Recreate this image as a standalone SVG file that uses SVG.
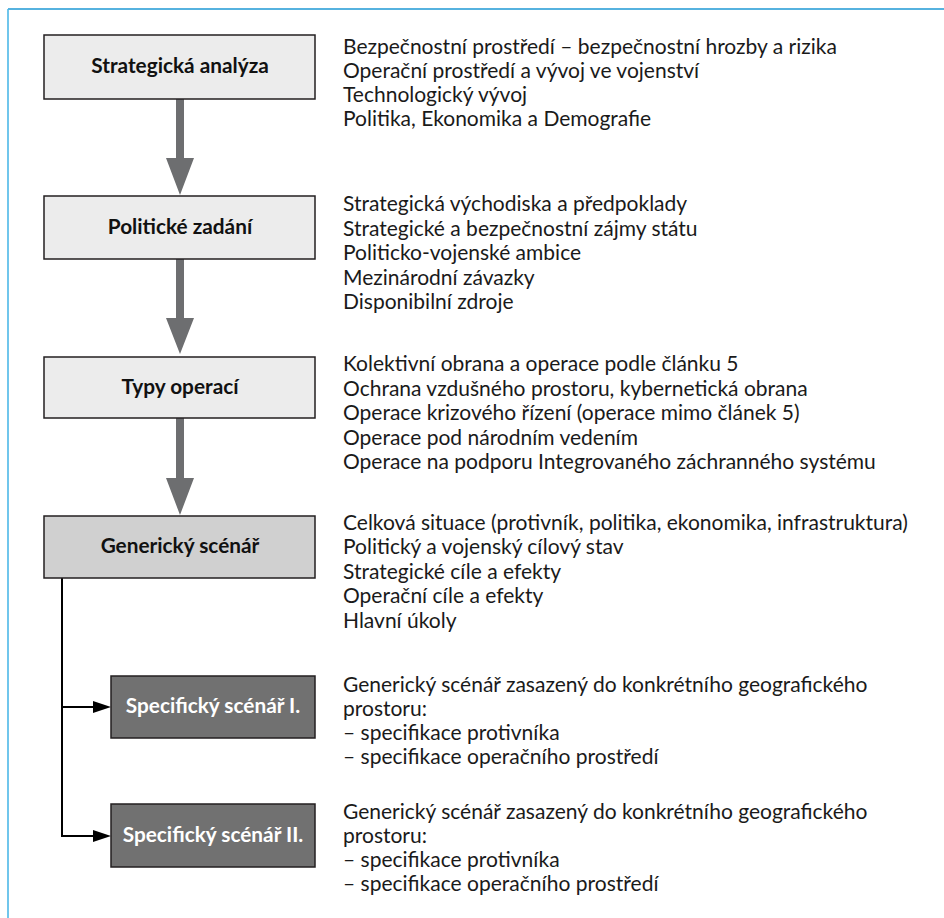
<svg xmlns="http://www.w3.org/2000/svg" width="944" height="918" viewBox="0 0 944 918">
<style>
.box{stroke:#231f20;stroke-width:1.5}
.l1{fill:#ececec}
.l2{fill:#d0d0d0}
.dk{fill:#717171}
.lbl{font-family:Lato,"Liberation Sans",sans-serif;font-weight:bold;font-size:20.8px;fill:#111;text-anchor:middle}
.wl{fill:#fff}
.txt{font-family:Lato,"Liberation Sans",sans-serif;font-size:21px;fill:#1a1a1a}
.ga{fill:#6d6e70}
</style>
<rect width="944" height="918" fill="#fff"/>
<g id="frame" fill="none">
<line x1="8" y1="9" x2="944" y2="9" stroke="#1e98d5" stroke-width="1.6"/>
<line x1="8" y1="9" x2="8" y2="918" stroke="#4db8e8" stroke-width="1.6"/>
</g>
<g id="connectors">
<path class="ga" d="M176,99 H184 V158 H194 L180,195 L166,158 H176 Z"/>
<path class="ga" d="M176,259 H184 V318 H194 L180,354 L166,318 H176 Z"/>
<path class="ga" d="M176,418 H184 V478 H194 L180,515 L166,478 H176 Z"/>
<path d="M62,578 V836" fill="none" stroke="#000" stroke-width="2"/>
<path d="M61,707 H93" fill="none" stroke="#000" stroke-width="2"/>
<path d="M93,701 L111,707 L93,713 Z" fill="#000"/>
<path d="M61,836 H93" fill="none" stroke="#000" stroke-width="2"/>
<path d="M93,830 L111,836 L93,842 Z" fill="#000"/>
</g>
<g id="n1">
<rect class="box l1" x="44" y="35" width="271" height="64"/>
<text class="lbl" x="180" y="73">Strategická analýza</text>
</g>
<g id="n2">
<rect class="box l1" x="44" y="196" width="271" height="63"/>
<text class="lbl" x="180" y="233.5">Politické zadání</text>
</g>
<g id="n3">
<rect class="box l1" x="44" y="357" width="271" height="61"/>
<text class="lbl" x="180" y="393.5">Typy operací</text>
</g>
<g id="n4">
<rect class="box l2" x="44" y="516" width="271" height="62"/>
<text class="lbl" x="180" y="553">Generický scénář</text>
</g>
<g id="n5">
<rect class="box dk" x="111" y="676" width="204" height="62"/>
<text class="lbl wl" x="213" y="713">Specifický scénář I.</text>
</g>
<g id="n6">
<rect class="box dk" x="111" y="804" width="204" height="63"/>
<text class="lbl wl" x="213" y="841.5">Specifický scénář II.</text>
</g>
<g id="t1" class="txt">
<text x="343" y="53.5">Bezpečnostní prostředí – bezpečnostní hrozby a rizika</text>
<text x="343" y="77.5">Operační prostředí a vývoj ve vojenství</text>
<text x="343" y="101.5">Technologický vývoj</text>
<text x="343" y="125.5">Politika, Ekonomika a Demografie</text>
</g>
<g id="t2" class="txt">
<text x="343" y="211">Strategická východiska a předpoklady</text>
<text x="343" y="235.5">Strategické a bezpečnostní zájmy státu</text>
<text x="343" y="260">Politicko-vojenské ambice</text>
<text x="343" y="284.5">Mezinárodní závazky</text>
<text x="343" y="309">Disponibilní zdroje</text>
</g>
<g id="t3" class="txt">
<text x="343" y="371">Kolektivní obrana a operace podle článku 5</text>
<text x="343" y="395.5">Ochrana vzdušného prostoru, kybernetická obrana</text>
<text x="343" y="420">Operace krizového řízení (operace mimo článek 5)</text>
<text x="343" y="444.5">Operace pod národním vedením</text>
<text x="343" y="469">Operace na podporu Integrovaného záchranného systému</text>
</g>
<g id="t4" class="txt">
<text x="343" y="529.5">Celková situace (protivník, politika, ekonomika, infrastruktura)</text>
<text x="343" y="554">Politický a vojenský cílový stav</text>
<text x="343" y="578.5">Strategické cíle a efekty</text>
<text x="343" y="603">Operační cíle a efekty</text>
<text x="343" y="627.5">Hlavní úkoly</text>
</g>
<g id="t5" class="txt">
<text x="343" y="691.5">Generický scénář zasazený do konkrétního geografického</text>
<text x="343" y="715.5">prostoru:</text>
<text x="343" y="739.5">– specifikace protivníka</text>
<text x="343" y="763.5">– specifikace operačního prostředí</text>
</g>
<g id="t6" class="txt">
<text x="343" y="818.5">Generický scénář zasazený do konkrétního geografického</text>
<text x="343" y="842.5">prostoru:</text>
<text x="343" y="866.5">– specifikace protivníka</text>
<text x="343" y="890.5">– specifikace operačního prostředí</text>
</g>
</svg>
